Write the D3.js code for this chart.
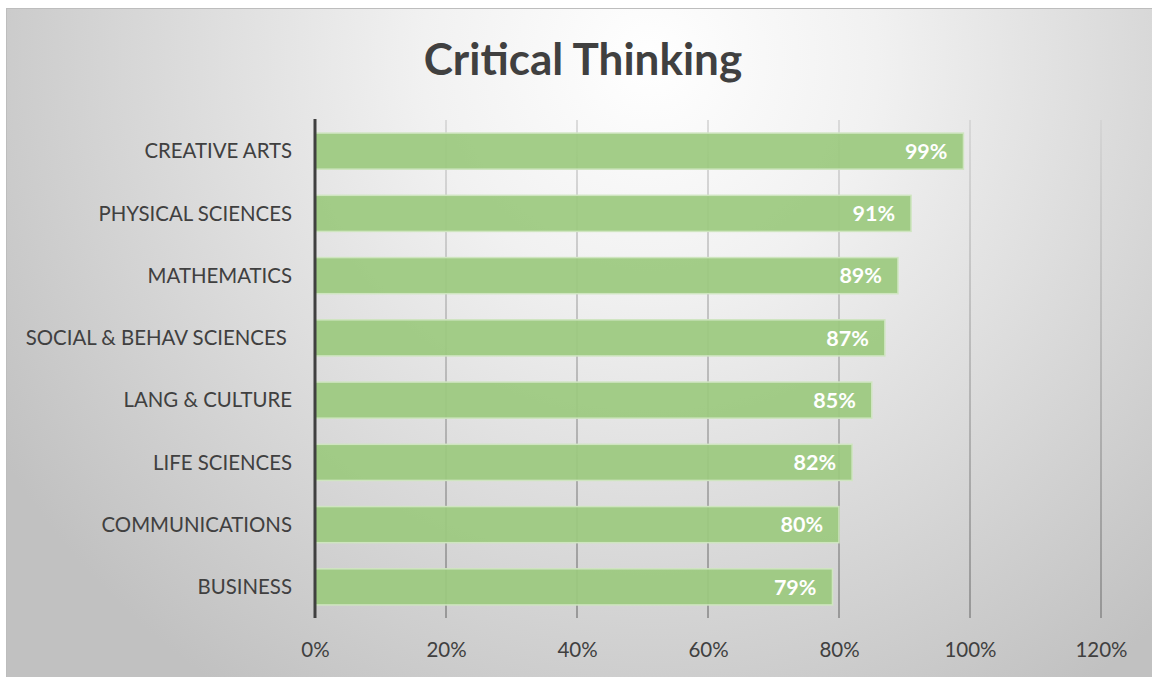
<!DOCTYPE html>
<html>
<head>
<meta charset="utf-8">
<script src="https://cdn.jsdelivr.net/npm/d3@7/dist/d3.min.js"></script>
<style>
  html, body { margin: 0; padding: 0; background: #ffffff; }
  svg { display: block; }
  text { font-family: Lato, "Open Sans", "Noto Sans", sans-serif; }
</style>
</head>
<body>
<svg id="chart" width="1152" height="677"></svg>
<script>
// Share of students showing critical thinking, by subject area
const categories = [
  "CREATIVE ARTS",
  "PHYSICAL SCIENCES",
  "MATHEMATICS",
  "SOCIAL & BEHAV SCIENCES ",
  "LANG & CULTURE",
  "LIFE SCIENCES",
  "COMMUNICATIONS",
  "BUSINESS"
];
const values = [0.99, 0.91, 0.89, 0.87, 0.85, 0.82, 0.80, 0.79];
const tickValues = [0, 0.2, 0.4, 0.6, 0.8, 1.0, 1.2];
const titleText = "Critical Thinking";

const W = 1152, H = 677;
const svg = d3.select("#chart");
const defs = svg.append("defs");

// Soft radial panel background, brightest near the top centre
const bg = defs.append("radialGradient")
  .attr("id", "panelBg")
  .attr("gradientUnits", "userSpaceOnUse")
  .attr("cx", 650).attr("cy", 60).attr("r", 760)
  .attr("fx", 650).attr("fy", 60);
bg.append("stop").attr("offset", "0").attr("stop-color", "#ffffff");
bg.append("stop").attr("offset", "0.3").attr("stop-color", "#f1f1f1");
bg.append("stop").attr("offset", "1").attr("stop-color", "#c1c1c1");

// Gridlines fade from light at the top to darker at the bottom
const gridGrad = defs.append("linearGradient")
  .attr("id", "gridGrad")
  .attr("gradientUnits", "userSpaceOnUse")
  .attr("x1", 0).attr("y1", 120).attr("x2", 0).attr("y2", 618);
gridGrad.append("stop").attr("offset", "0").attr("stop-color", "#d2d2d2");
gridGrad.append("stop").attr("offset", "1").attr("stop-color", "#868686");

svg.append("rect")
  .attr("x", 6.5).attr("y", 8.5)
  .attr("width", W).attr("height", H)
  .attr("fill", "url(#panelBg)")
  .attr("stroke", "#bdbdbd")
  .attr("stroke-width", 1);

const margin = { left: 315, right: 51, top: 120, bottom: 59 };

const x = d3.scaleLinear()
  .domain([0, 1.2])
  .range([margin.left, W - margin.right]);

const y = d3.scaleBand()
  .domain(categories)
  .range([margin.top, H - margin.bottom])
  .paddingInner(0.42)
  .paddingOuter(0.21);

// Vertical gridlines
svg.append("g")
  .selectAll("line")
  .data(tickValues.filter(d => d > 0))
  .join("line")
  .attr("x1", d => x(d)).attr("x2", d => x(d))
  .attr("y1", margin.top).attr("y2", H - margin.bottom)
  .attr("stroke", "url(#gridGrad)")
  .attr("stroke-width", 1.5);

// Bars
svg.append("g")
  .selectAll("rect")
  .data(values)
  .join("rect")
  .attr("x", x(0))
  .attr("y", (d, i) => y(categories[i]))
  .attr("width", d => x(d) - x(0))
  .attr("height", y.bandwidth())
  .attr("fill", "#9cc97f")
  .attr("fill-opacity", 0.93)
  .attr("stroke", "#cfe5c0")
  .attr("stroke-width", 1.5);

// Value labels inside the bar ends
svg.append("g")
  .selectAll("text")
  .data(values)
  .join("text")
  .attr("x", d => x(d) - 16)
  .attr("y", (d, i) => y(categories[i]) + y.bandwidth() / 2)
  .attr("dy", "0.36em")
  .attr("text-anchor", "end")
  .attr("fill", "#ffffff")
  .attr("font-weight", 700)
  .attr("font-size", 21.5)
  .text(d => d3.format(".0%")(d));

// Category axis
const yAxis = svg.append("g")
  .attr("transform", `translate(${x(0)},0)`)
  .call(d3.axisLeft(y).tickSize(0).tickPadding(23));
yAxis.select(".domain")
  .attr("stroke", "#404040")
  .attr("stroke-width", 3)
  .attr("d", `M0,${margin.top - 1}V${H - margin.bottom}`);
yAxis.selectAll("text")
  .attr("fill", "#404040")
  .attr("font-size", 20.4)
  .attr("font-family", "Lato, 'Open Sans', sans-serif")
  .style("white-space", "pre")
  .attr("dy", "0.36em");

// Percentage axis
const xAxis = svg.append("g")
  .attr("transform", `translate(0,${H - margin.bottom})`)
  .call(d3.axisBottom(x).tickValues(tickValues).tickFormat(d3.format(".0%")).tickSize(0).tickPadding(24));
xAxis.select(".domain").remove();
xAxis.selectAll("text")
  .attr("fill", "#404040")
  .attr("font-size", 20.5)
  .attr("font-family", "Lato, 'Open Sans', sans-serif");

// Title
svg.append("text")
  .attr("x", 583)
  .attr("y", 75)
  .attr("text-anchor", "middle")
  .attr("fill", "#404040")
  .attr("font-weight", 700)
  .attr("font-size", 44)
  .text(titleText);
</script>
</body>
</html>
